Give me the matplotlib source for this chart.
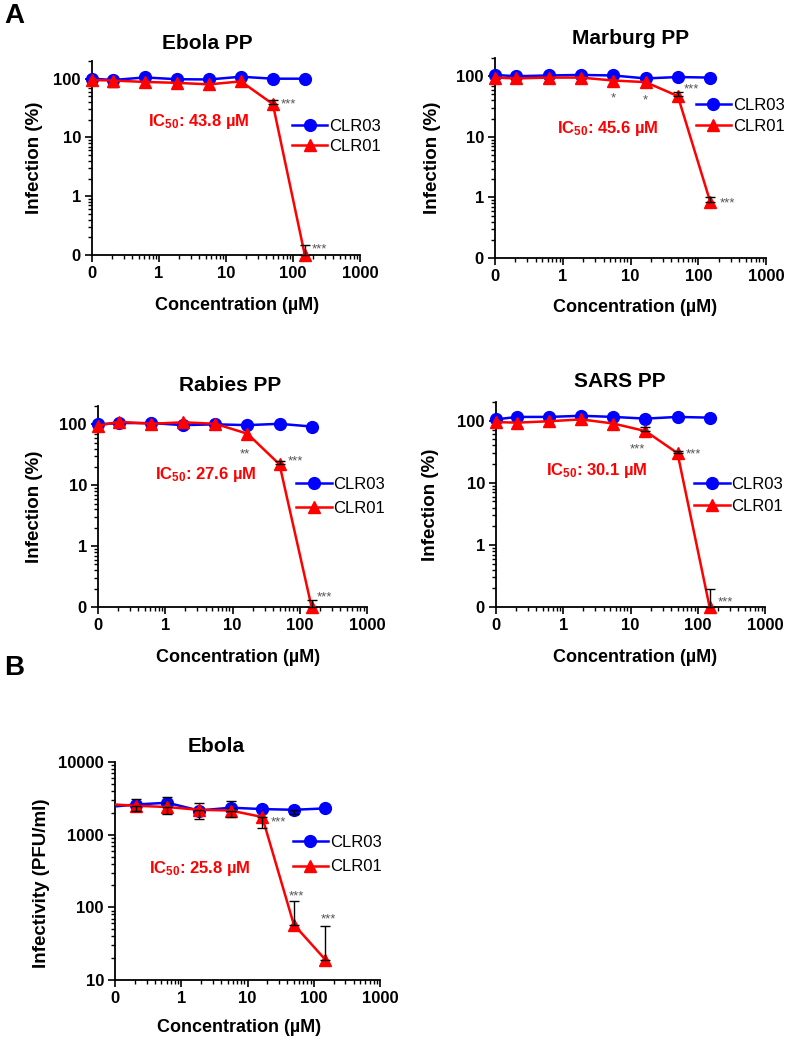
import numpy as np
import matplotlib
matplotlib.use('Agg')
import matplotlib.pyplot as plt
from matplotlib.ticker import FixedLocator, FixedFormatter, LogLocator, NullFormatter

plt.rcParams['font.family'] = ['Liberation Sans', 'DejaVu Sans']
plt.rcParams['mathtext.fontset'] = 'custom'
plt.rcParams['mathtext.rm'] = 'Liberation Sans:bold'
plt.rcParams['mathtext.bf'] = 'Liberation Sans:bold'
plt.rcParams['mathtext.it'] = 'Liberation Sans:bold'

# ---------------- data ----------------
conc = [0, 0.206, 0.617, 1.85, 5.56, 16.7, 50, 150]   # µM (0 drawn at the axis break)
series_names = ['CLR03', 'CLR01']

# Ebola PP (% infection)
ebola_pp_clr03 = [100, 95, 105, 98, 97, 108, 100, 100]
ebola_pp_clr01 = [95, 93, 88, 85, 80, 90, 37, 0]
# error bounds (lower, upper); None = no bar
ebola_pp_clr03_err = [None, (72, 95), None, None, None, None, None, None]
ebola_pp_clr01_err = [None, None, None, None, None, None, (37, 44), (0, 0.147)]
ebola_pp_sig = [(6, '***'), (7, '***')]
ebola_pp_ic50 = '43.8'

# Marburg PP
marburg_pp_clr03 = [105, 100, 103, 105, 103, 92, 97, 95]
marburg_pp_clr01 = [95, 92, 95, 95, 85, 80, 47, 0.85]
marburg_pp_clr03_err = [None] * 8
marburg_pp_clr01_err = [None, None, None, None, None, None, (47, 55), (0.85, 1.0)]
marburg_pp_sig = [(4, '*'), (5, '*'), (6, '***'), (7, '***')]
marburg_pp_ic50 = '45.6'

# Rabies PP
rabies_pp_clr03 = [100, 105, 105, 97, 100, 97, 102, 92]
rabies_pp_clr01 = [95, 110, 102, 108, 102, 70, 22, 0]
rabies_pp_clr03_err = [None] * 8
rabies_pp_clr01_err = [None, None, None, None, None, None, (22, 25), (0, 0.13)]
rabies_pp_sig = [(5, '**'), (6, '***'), (7, '***')]
rabies_pp_ic50 = '27.6'

# SARS PP
sars_pp_clr03 = [105, 115, 115, 120, 115, 108, 115, 112]
sars_pp_clr01 = [95, 93, 98, 105, 90, 68, 30, 0]
sars_pp_clr03_err = [None] * 8
sars_pp_clr01_err = [None, None, None, None, None, (68, 78), (30, 32), (0, 0.196)]
sars_pp_sig = [(5, '***'), (6, '***'), (7, '***')]
sars_pp_ic50 = '30.1'

# Ebola virus (PFU/ml)
ebola_clr03 = [2450, 2600, 2750, 2150, 2350, 2250, 2200, 2300]
ebola_clr01 = [2600, 2500, 2400, 2200, 2150, 1750, 58, 19]
ebola_clr03_err = [None, (2600, 3050), (2750, 3350), (2150, 2750), (2350, 2950), None, (1900, 2200), None]
ebola_clr01_err = [None, (2150, 2500), (1900, 2400), (1650, 2200), (1730, 2150), (1250, 1750), (58, 121), (19, 56)]
ebola_sig = [(5, '***'), (6, '***'), (7, '***')]
ebola_ic50 = '25.8'

titles = ['Ebola PP', 'Marburg PP', 'Rabies PP', 'SARS PP', 'Ebola']

# ---------------- layout / style ----------------
W, H = 790, 1041
BLUE = '#0000FF'
RED = '#FF0000'

fig = plt.figure(figsize=(W / 100, H / 100), dpi=100)


def add_ax(l, t, r, b):
    return fig.add_axes([l / W, 1 - b / H, (r - l) / W, (b - t) / H])


panels = [
    dict(box=(92, 61, 360, 255), title=titles[0], c03=ebola_pp_clr03, c01=ebola_pp_clr01,
         e03=ebola_pp_clr03_err, e01=ebola_pp_clr01_err, sig=ebola_pp_sig, ic=ebola_pp_ic50,
         sigoff={6: (6, 0, 'left'), 7: (5, 4, 'left')},
         icpos=(0.21, 0.69), leg=(0.745, 0.61, 0.3), tx=(0.43, 1.09),
         xl=(0.54, -0.258), yl=(-0.213, 0.5), kind='pct'),
    dict(box=(495, 58, 766, 258), title=titles[1], c03=marburg_pp_clr03, c01=marburg_pp_clr01,
         e03=marburg_pp_clr03_err, e01=marburg_pp_clr01_err, sig=marburg_pp_sig, ic=marburg_pp_ic50,
         sigoff={4: (0, -13, 'center'), 5: (0, -13, 'center'), 6: (4, 5, 'left'), 7: (7, -1, 'left')},
         icpos=(0.229, 0.65), leg=(0.74, 0.71, 0.33), tx=(0.5, 1.1),
         xl=(0.517, -0.245), yl=(-0.229, 0.5), kind='pct'),
    dict(box=(98, 406, 367, 607), title=titles[2], c03=rabies_pp_clr03, c01=rabies_pp_clr01,
         e03=rabies_pp_clr03_err, e01=rabies_pp_clr01_err, sig=rabies_pp_sig, ic=rabies_pp_ic50,
         sigoff={5: (-2, -15, 'center'), 6: (6, 2, 'left'), 7: (4, 7, 'left')},
         icpos=(0.213, 0.66), leg=(0.735, 0.55, 0.55), tx=(0.49, 1.1),
         xl=(0.52, -0.249), yl=(-0.235, 0.5), kind='pct'),
    dict(box=(496, 402, 765, 607), title=titles[3], c03=sars_pp_clr03, c01=sars_pp_clr01,
         e03=sars_pp_clr03_err, e01=sars_pp_clr01_err, sig=sars_pp_sig, ic=sars_pp_ic50,
         sigoff={5: (-6, -13, 'center'), 6: (6, -1, 'left'), 7: (6, 3, 'left')},
         icpos=(0.186, 0.665), leg=(0.736, 0.545, 0.45), tx=(0.46, 1.1),
         xl=(0.517, -0.244), yl=(-0.245, 0.5), kind='pct'),
    dict(box=(115, 762, 380, 980), title=titles[4], c03=ebola_clr03, c01=ebola_clr01,
         e03=ebola_clr03_err, e01=ebola_clr01_err, sig=ebola_sig, ic=ebola_ic50,
         sigoff={5: (6, -4, 'left'), 6: (2, 20, 'center'), 7: (2, 29, 'center')},
         icpos=(0.128, 0.51), leg=(0.67, 0.574, 0.55), tx=(0.38, 1.07),
         xl=(0.47, -0.22), yl=(-0.277, 0.445), kind='pfu'),
]

x_plot = np.where(np.array(conc) == 0, 0.1, np.array(conc, dtype=float))

for p in panels:
    ax = add_ax(*p['box'])
    ax.set_xscale('log')
    ax.set_yscale('log')
    ax.set_xlim(0.1, 1000)
    if p['kind'] == 'pct':
        ax.set_ylim(0.1, 200)
        yt = [0.1, 1, 10, 100]
        ytl = ['0', '1', '10', '100']
        ylabel = 'Infection (%)'
        floor = 0.1
        clip = False
        mev = None
    else:
        ax.set_ylim(10, 10000)
        yt = [10, 100, 1000, 10000]
        ytl = ['10', '100', '1000', '10000']
        ylabel = 'Infectivity (PFU/ml)'
        floor = 10
        clip = True
        mev = list(range(1, len(conc)))

    y03 = np.maximum(np.array(p['c03'], dtype=float), floor)
    y01 = np.maximum(np.array(p['c01'], dtype=float), floor)

    l03, = ax.plot(x_plot, y03, color=BLUE, lw=1.8, marker='o', ms=8.5, markevery=mev,
                   clip_on=clip, zorder=3, label=series_names[0])
    l01, = ax.plot(x_plot, y01, color=RED, lw=1.8, marker='^', ms=9, markevery=mev,
                   clip_on=clip, zorder=5, label=series_names[1])

    for yv, errs, z in ((y03, p['e03'], 4), (y01, p['e01'], 6)):
        idx = [i for i, e in enumerate(errs) if e is not None]
        if not idx:
            continue
        xs = x_plot[idx]
        ys = yv[idx]
        lo = np.array([max(errs[i][0], floor) for i in idx])
        hi = np.array([max(errs[i][1], floor) for i in idx])
        ax.errorbar(xs, ys, yerr=[ys - lo, hi - ys], fmt='none', ecolor='black',
                    elinewidth=1.0, capsize=3.5, capthick=1.0, zorder=z, clip_on=False)

    for i, s in p['sig']:
        dx, dy, ha = p['sigoff'][i]
        ax.annotate(s, (x_plot[i], y01[i]), xytext=(dx, dy), textcoords='offset points',
                    ha=ha, va='center', fontsize=9.5, color='#555555', zorder=7,
                    annotation_clip=False)

    ax.text(p['icpos'][0], p['icpos'][1], r'IC$_{50}$: ' + p['ic'] + ' µM', transform=ax.transAxes,
            color=RED, fontsize=12, fontweight='bold', ha='left', va='center')

    lx, ly, lsp = p['leg']
    ax.legend(handles=[l03, l01], loc='center left', bbox_to_anchor=(lx, ly), frameon=False,
              borderpad=0, borderaxespad=0, handlelength=2.15, handletextpad=0.1,
              labelspacing=lsp, fontsize=12, numpoints=1)

    ax.xaxis.set_major_locator(FixedLocator([0.1, 1, 10, 100, 1000]))
    ax.xaxis.set_major_formatter(FixedFormatter(['0', '1', '10', '100', '1000']))
    ax.xaxis.set_minor_locator(LogLocator(base=10, subs=np.arange(2, 10), numticks=20))
    ax.xaxis.set_minor_formatter(NullFormatter())
    ax.yaxis.set_major_locator(FixedLocator(yt))
    ax.yaxis.set_major_formatter(FixedFormatter(ytl))
    ax.yaxis.set_minor_locator(LogLocator(base=10, subs=np.arange(2, 10), numticks=20))
    ax.yaxis.set_minor_formatter(NullFormatter())

    ax.tick_params(which='major', direction='out', length=5, width=1.2, labelsize=12,
                   pad=3, colors='black')
    ax.tick_params(which='minor', direction='out', length=3, width=1.0)
    for lab in ax.get_xticklabels() + ax.get_yticklabels():
        lab.set_fontweight('bold')
    for side in ('top', 'right'):
        ax.spines[side].set_visible(False)
    for side in ('left', 'bottom'):
        ax.spines[side].set_linewidth(1.3)

    ax.set_xlabel('Concentration (µM)', fontsize=13, fontweight='bold', va='center')
    ax.xaxis.set_label_coords(*p['xl'])
    ax.set_ylabel(ylabel, fontsize=13.5, fontweight='bold', va='center')
    ax.yaxis.set_label_coords(*p['yl'])

    ax.text(p['tx'][0], p['tx'][1], p['title'], transform=ax.transAxes, ha='center',
            va='center', fontsize=15, fontweight='bold')

fig.text(14 / W, 1 - 16 / H, 'A', fontsize=20, fontweight='bold', ha='center', va='center')
fig.text(14 / W, 1 - 668 / H, 'B', fontsize=20, fontweight='bold', ha='center', va='center')

fig.savefig('out.png', dpi=100)
